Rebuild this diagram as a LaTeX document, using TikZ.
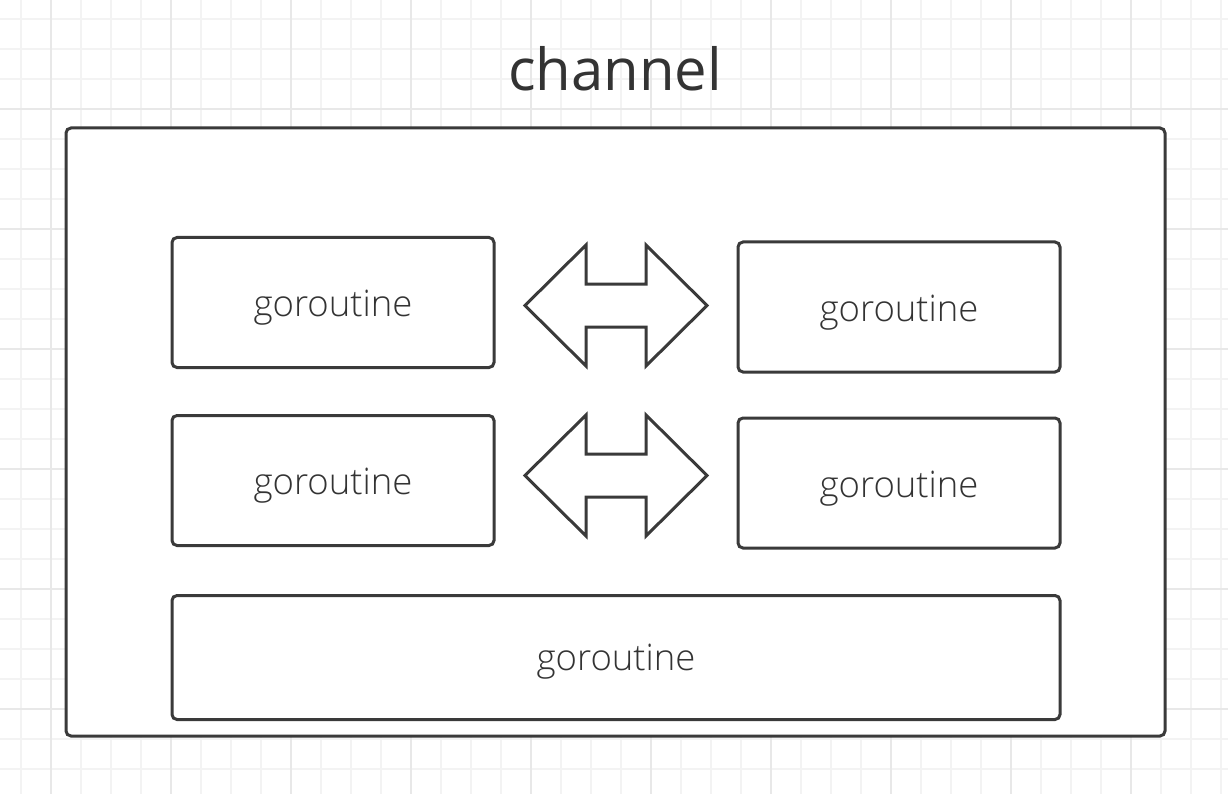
\documentclass[tikz,border=0pt]{standalone}
\usepackage{fontspec}
\setmainfont{Open Sans}
\newfontfamily\gofont{Open Sans Light}
\definecolor{gridA}{HTML}{F3F3F3}
\definecolor{gridB}{HTML}{E8E8E8}
\definecolor{ink}{HTML}{3A3A3A}
\definecolor{txt}{HTML}{333333}
\tikzset{
  gobox/.style={draw=ink, line width=3pt, rounded corners=5pt, fill=white,
    minimum width=322pt, minimum height=130pt, inner sep=0pt,
    text height=28pt, text depth=0pt,
    font=\gofont\fontsize{36.5}{42}\selectfont, text=txt},
  outerbox/.style={draw=ink, line width=3pt, rounded corners=5pt, fill=white,
    minimum width=1099pt, minimum height=608pt, inner sep=0pt},
  dblarrow/.style={draw=ink, line width=3pt, line join=miter, fill=white},
  titletext/.style={font=\fontsize{58}{66}\selectfont, text=txt, inner sep=0pt, anchor=base}
}
\begin{document}
\begin{tikzpicture}[x=1pt,y=-1pt]
\useasboundingbox (0,0) rectangle (1228,794);
\fill[white] (0,0) rectangle (1228,794);
% grid
\foreach \x in {21,51,...,1221} \draw[gridA, line width=1.5pt] (\x,0) -- (\x,794);
\foreach \y in {19,49,...,789} \draw[gridA, line width=1.5pt] (0,\y) -- (1228,\y);
\foreach \x in {51,171,...,1191} \draw[gridB, line width=1.5pt] (\x,0) -- (\x,794);
\foreach \y in {109,229,...,709} \draw[gridB, line width=1.5pt] (0,\y) -- (1228,\y);
% title
\node[titletext] (title) at (615,91) {channel};
% outer container
\node[outerbox] (chan) at (615.5,432) {};
% goroutines
\node[gobox] (g1) at (333,302.5) {goroutine};
\node[gobox] (g2) at (899,307) {goroutine};
\node[gobox] (g3) at (333,480.5) {goroutine};
\node[gobox] (g4) at (899,483) {goroutine};
\node[gobox, minimum width=888pt, minimum height=124pt, text height=25pt] (g5) at (616,657.5) {goroutine};
% double arrows
\coordinate (a1) at (616,305.5);
\coordinate (a2) at (616,475.5);
\foreach \c in {a1,a2}
  \draw[dblarrow, shift={(\c)}] (-91,0) -- (-30,-60.5) -- (-30,-21.5) -- (30,-21.5) -- (30,-60.5) -- (91,0)
    -- (30,60.5) -- (30,21.5) -- (-30,21.5) -- (-30,60.5) -- cycle;
\end{tikzpicture}
\end{document}
